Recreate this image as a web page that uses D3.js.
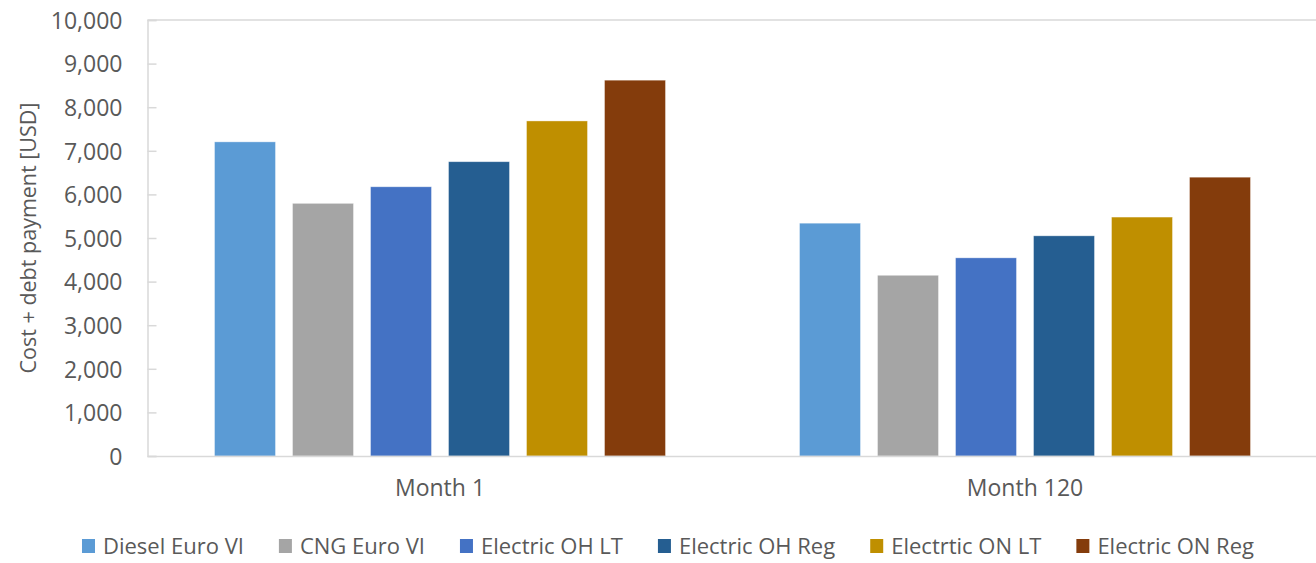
<!DOCTYPE html>
<html>
<head>
<meta charset="utf-8">
<script src="https://d3js.org/d3.v7.min.js"></script>
<style>
  html, body { margin: 0; padding: 0; background: #fff; }
  svg { display: block; }
  text { font-family: "Open Sans", Lato, sans-serif; fill: #595959; }
</style>
</head>
<body>
<svg id="chart" width="1316" height="563"></svg>
<script>
const categories = ["Month 1", "Month 120"];
const seriesNames = ["Diesel Euro VI", "CNG Euro VI", "Electric OH LT", "Electric OH Reg", "Electrtic ON LT", "Electric ON Reg"];
const seriesColors = ["#5B9BD5", "#A5A5A5", "#4472C4", "#255E91", "#BF8F00", "#843C0C"];
const month1Values = [7205, 5795, 6175, 6750, 7685, 8620];
const month120Values = [5340, 4145, 4545, 5050, 5480, 6395];
const yTicks = [0, 1000, 2000, 3000, 4000, 5000, 6000, 7000, 8000, 9000, 10000];
const yTitle = "Cost + debt payment [USD]";

const valuesByCategory = [month1Values, month120Values];

const W = 1316, H = 563;
const margin = { left: 147.5, right: -1.5, top: 20, bottom: 107 };
const svg = d3.select("#chart");

const x0 = d3.scaleBand().domain(categories).range([margin.left, W - margin.right]).paddingInner(0).paddingOuter(0);
const x1 = d3.scaleBand().domain(seriesNames).range([0, x0.bandwidth()]).paddingInner(0.218).paddingOuter(0.859);
const y = d3.scaleLinear().domain([0, 10000]).range([H - margin.bottom, margin.top]);

// top border line
svg.append("line")
  .attr("x1", margin.left).attr("x2", W)
  .attr("y1", y(10000)).attr("y2", y(10000))
  .attr("stroke", "#D9D9D9").attr("stroke-width", 1.5);

// bars
const groups = svg.append("g").selectAll("g")
  .data(categories)
  .join("g")
  .attr("transform", d => `translate(${x0(d)},0)`);

groups.selectAll("rect")
  .data((d, i) => seriesNames.map((s, j) => ({ s, j, v: valuesByCategory[i][j] })))
  .join("rect")
  .attr("x", d => x1(d.s))
  .attr("width", x1.bandwidth())
  .attr("y", d => y(d.v))
  .attr("height", d => y(0) - y(d.v))
  .attr("fill", d => seriesColors[d.j])
  .attr("stroke", "#ffffff").attr("stroke-opacity", 0.5).attr("stroke-width", 0.75);

// y axis
const yAxis = d3.axisLeft(y).tickValues(yTicks).tickFormat(d3.format(",")).tickSize(-9).tickPadding(25);
const gy = svg.append("g").attr("transform", `translate(${margin.left},0)`).call(yAxis);
gy.select(".domain").attr("stroke", "#D9D9D9").attr("stroke-width", 1.5);
gy.selectAll(".tick line").attr("stroke", "#D9D9D9").attr("stroke-width", 1.5);
gy.selectAll(".tick text").style("font-size", "23px").attr("fill", "#595959").attr("dy", "0.36em");

// x axis
const xAxis = d3.axisBottom(x0).tickSize(0).tickPadding(24);
const gx = svg.append("g").attr("transform", `translate(0,${y(0)})`).call(xAxis);
gx.select(".domain").attr("stroke", "#D9D9D9").attr("stroke-width", 1.5);
gx.selectAll(".tick text").style("font-size", "23px").attr("fill", "#595959");

// y title
svg.append("text")
  .attr("transform", `translate(36,${(y(0) + y(10000)) / 2}) rotate(-90)`)
  .attr("text-anchor", "middle")
  .style("font-size", "21.5px")
  .text(yTitle);

// legend
const legend = svg.append("g");
const items = legend.selectAll("g").data(seriesNames).join("g");
items.append("rect").attr("width", 13).attr("height", 14).attr("y", -7).attr("fill", (d, i) => seriesColors[i]);
items.append("text").attr("x", 21).attr("dy", "0.36em").style("font-size", "22px").text(d => d);
const gap = 35;
let xpos = 0;
const widths = [];
items.each(function () {
  widths.push(this.getBBox().width);
});
const total = d3.sum(widths) + gap * (widths.length - 1);
xpos = 668 - total / 2;
items.each(function (d, i) {
  d3.select(this).attr("transform", `translate(${xpos},546)`);
  xpos += widths[i] + gap;
});
</script>
</body>
</html>
